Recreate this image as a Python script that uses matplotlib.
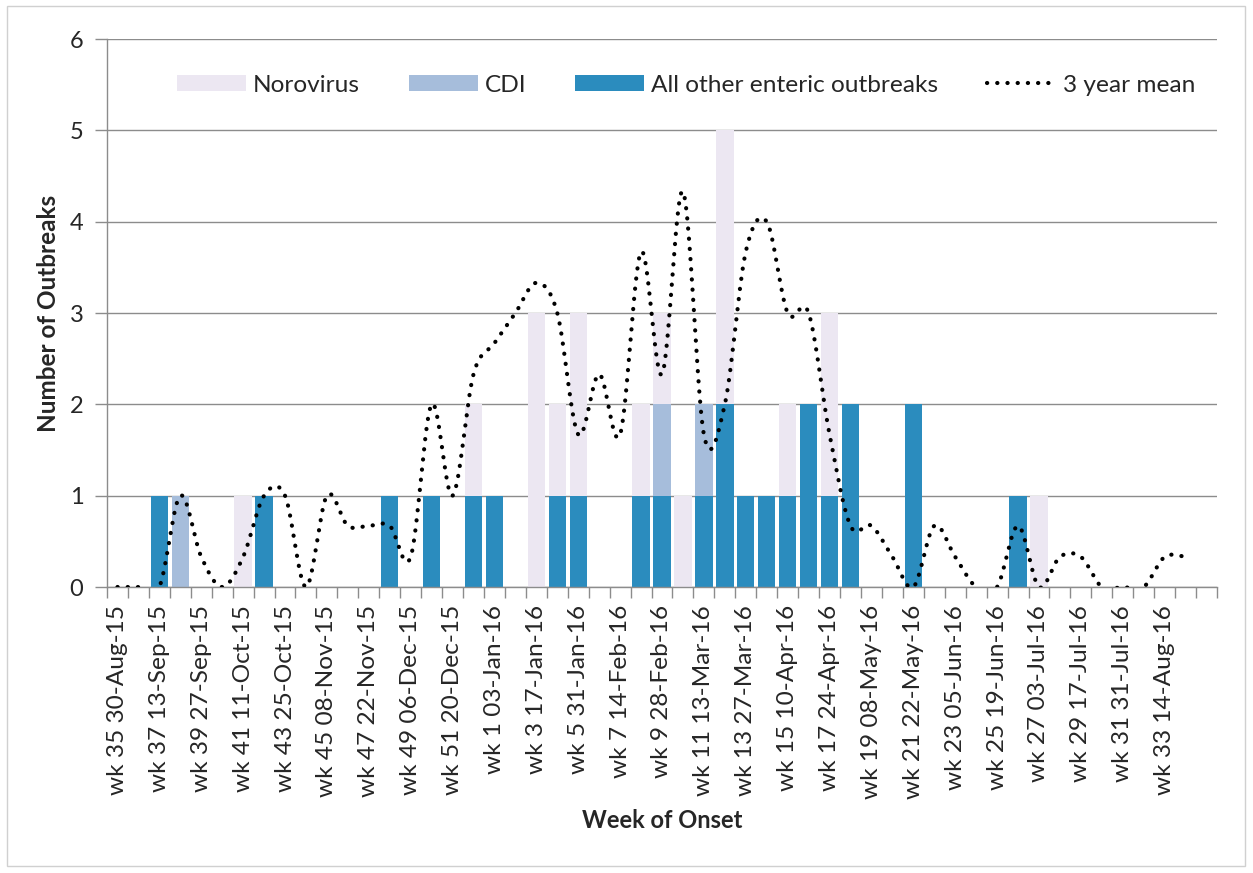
import matplotlib
matplotlib.use("Agg")
import matplotlib.pyplot as plt
import numpy as np
from matplotlib.patches import Rectangle

plt.rcParams['font.family'] = ['Lato', 'DejaVu Sans']

weeks = ["wk 35 30-Aug-15", "wk 36 06-Sep-15", "wk 37 13-Sep-15", "wk 38 20-Sep-15",
         "wk 39 27-Sep-15", "wk 40 04-Oct-15", "wk 41 11-Oct-15", "wk 42 18-Oct-15",
         "wk 43 25-Oct-15", "wk 44 01-Nov-15", "wk 45 08-Nov-15", "wk 46 15-Nov-15",
         "wk 47 22-Nov-15", "wk 48 29-Nov-15", "wk 49 06-Dec-15", "wk 50 13-Dec-15",
         "wk 51 20-Dec-15", "wk 52 27-Dec-15", "wk 1 03-Jan-16", "wk 2 10-Jan-16",
         "wk 3 17-Jan-16", "wk 4 24-Jan-16", "wk 5 31-Jan-16", "wk 6 07-Feb-16",
         "wk 7 14-Feb-16", "wk 8 21-Feb-16", "wk 9 28-Feb-16", "wk 10 06-Mar-16",
         "wk 11 13-Mar-16", "wk 12 20-Mar-16", "wk 13 27-Mar-16", "wk 14 03-Apr-16",
         "wk 15 10-Apr-16", "wk 16 17-Apr-16", "wk 17 24-Apr-16", "wk 18 01-May-16",
         "wk 19 08-May-16", "wk 20 15-May-16", "wk 21 22-May-16", "wk 22 29-May-16",
         "wk 23 05-Jun-16", "wk 24 12-Jun-16", "wk 25 19-Jun-16", "wk 26 26-Jun-16",
         "wk 27 03-Jul-16", "wk 28 10-Jul-16", "wk 29 17-Jul-16", "wk 30 24-Jul-16",
         "wk 31 31-Jul-16", "wk 32 07-Aug-16", "wk 33 14-Aug-16", "wk 34 21-Aug-16",
         ""]

other = [0, 0, 1, 0, 0, 0, 0, 1, 0, 0,
         0, 0, 0, 1, 0, 1, 0, 1, 1, 0,
         0, 1, 1, 0, 0, 1, 1, 0, 1, 2,
         1, 1, 1, 2, 1, 2, 0, 0, 2, 0,
         0, 0, 0, 1, 0, 0, 0, 0, 0, 0,
         0, 0, 0]
cdi = [0, 0, 0, 1, 0, 0, 0, 0, 0, 0,
       0, 0, 0, 0, 0, 0, 0, 0, 0, 0,
       0, 0, 0, 0, 0, 0, 1, 0, 1, 0,
       0, 0, 0, 0, 0, 0, 0, 0, 0, 0,
       0, 0, 0, 0, 0, 0, 0, 0, 0, 0,
       0, 0, 0]
noro = [0, 0, 0, 0, 0, 0, 1, 0, 0, 0,
        0, 0, 0, 0, 0, 0, 0, 1, 0, 0,
        3, 1, 2, 0, 0, 1, 1, 1, 0, 3,
        0, 0, 1, 0, 2, 0, 0, 0, 0, 0,
        0, 0, 0, 0, 1, 0, 0, 0, 0, 0,
        0, 0, 0]
mean3 = [0, 0, 0, 1, 0.33, 0, 0.33, 1, 1, 0,
         1, 0.67, 0.67, 0.67, 0.33, 2, 1, 2.33, 2.67, 3,
         3.33, 3, 1.67, 2.33, 1.67, 3.67, 2.33, 4.33, 1.67, 2,
         3.67, 4, 3, 3, 1.67, 0.67, 0.67, 0.33, 0, 0.67,
         0.33, 0, 0, 0.67, 0, 0.33, 0.33, 0, 0, 0,
         0.33, 0.33]

c_other = "#2B8CBE"
c_cdi = "#A6BDDB"
c_noro = "#ECE7F2"
grid_c = "#8C8C8C"
text_c = "#262626"

fig = plt.figure(figsize=(12.53, 8.73), dpi=100)
ax = fig.add_axes([107/1253, 1-587/873, (1217-107)/1253, (587-39)/873])

# outer border
fig.patches.append(Rectangle((7/1253, 1-866/873), (1245-7)/1253, (866-6)/873,
                             transform=fig.transFigure, fill=False,
                             edgecolor="#D0D0D0", lw=1.0, zorder=0))

x = np.arange(len(weeks))
other_a = np.array(other, float)
cdi_a = np.array(cdi, float)
noro_a = np.array(noro, float)
w = 0.83
ax.bar(x, noro_a, w, bottom=other_a + cdi_a, color=c_noro, label="Norovirus", zorder=2)
ax.bar(x, cdi_a, w, bottom=other_a, color=c_cdi, label="CDI", zorder=2)
ax.bar(x, other_a, w, color=c_other, label="All other enteric outbreaks", zorder=2)

# smoothed (Catmull-Rom) line through the 3-year mean points, like Excel's smoothing
m = np.array(mean3, float)
xm = np.arange(len(m), dtype=float)
P = np.column_stack([xm, m])
Pp = np.vstack([P[0], P, P[-1]])
xs, ys = [], []
t = np.linspace(0, 1, 30)
for i in range(len(P) - 1):
    p0, p1, p2, p3 = Pp[i], Pp[i+1], Pp[i+2], Pp[i+3]
    b1 = p1 + (p2 - p0) / 6.0
    b2 = p2 - (p3 - p1) / 6.0
    tt = t[:, None]
    seg = ((1-tt)**3) * p1 + 3*((1-tt)**2)*tt*b1 + 3*(1-tt)*tt**2*b2 + tt**3*p2
    if i > 0:
        seg = seg[1:]
    xs.extend(seg[:, 0]); ys.extend(seg[:, 1])
ax.plot(xs, ys, color="black", lw=3.0, linestyle=(0, (0.05, 2.4)),
        dash_capstyle="round", solid_capstyle="round", zorder=3, label="3 year mean")

ax.set_xlim(-0.5, len(weeks) - 0.5)
ax.set_ylim(0, 6)
ax.set_yticks(range(0, 7))
ax.yaxis.grid(True, color=grid_c, lw=1.0, zorder=1)
ax.set_axisbelow(True)

ax.set_xticks(np.arange(-0.5, len(weeks), 1.0))
ax.set_xticklabels([])
ax.set_xticks(x[::2], minor=True)
ax.set_xticklabels([weeks[i] for i in x[::2]], minor=True, rotation=90, fontsize=17.6,
                   color=text_c)
ax.tick_params(axis="x", which="major", length=8, width=1, color=grid_c, direction="out")
ax.tick_params(axis="x", which="minor", length=0, pad=13)
ax.tick_params(axis="y", length=9, width=1, color=grid_c, labelsize=17,
               labelcolor=text_c, pad=8)

for s in ["top", "right"]:
    ax.spines[s].set_visible(False)
for s in ["left", "bottom"]:
    ax.spines[s].set_color(grid_c)
    ax.spines[s].set_linewidth(1.0)

ax.set_ylabel("Number of Outbreaks", fontsize=17.5, fontweight="bold", color=text_c, labelpad=7)
ax.set_xlabel("Week of Onset", fontsize=17, fontweight="bold", color=text_c, labelpad=7)

h, l = ax.get_legend_handles_labels()
order = [l.index("Norovirus"), l.index("CDI"), l.index("All other enteric outbreaks"),
         l.index("3 year mean")]
leg = ax.legend([h[i] for i in order], [l[i] for i in order], ncol=4, frameon=False,
                loc="upper center", bbox_to_anchor=(0.522, 0.975), fontsize=17.6,
                handlelength=2.8, handleheight=0.65, handletextpad=0.3, columnspacing=2.0,
                labelcolor=text_c)

fig.savefig("out.png", dpi=100)
